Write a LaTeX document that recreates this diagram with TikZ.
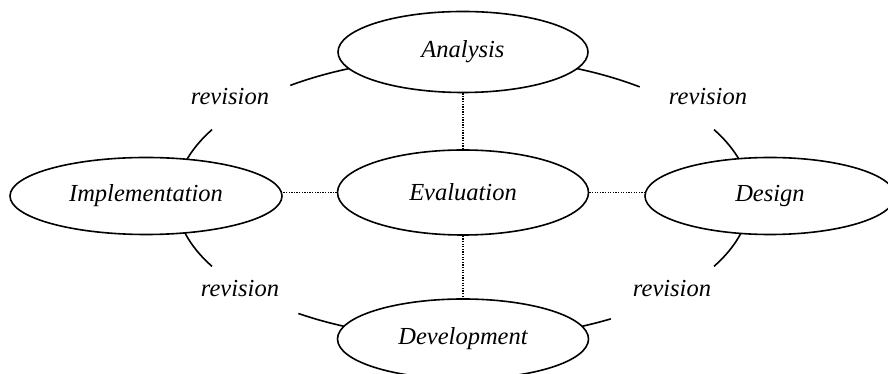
\documentclass[tikz,border=0pt]{standalone}
\usepackage{fontspec}
\setmainfont{Liberation Serif}
\usetikzlibrary{shapes.geometric}

\begin{document}
\begin{tikzpicture}[x=1pt, y=1pt,
	phase/.style={draw, ellipse, line width=1.6pt, fill=white, inner sep=0pt, font=\fontsize{24.5}{29}\selectfont\itshape},
	link/.style={line width=1.7pt, dash pattern=on 1.3pt off 1.3pt},
	loop/.style={line width=1.6pt},
	lbl/.style={font=\fontsize{24.5}{29}\selectfont\itshape}]
		\useasboundingbox (0,0) rectangle (888,374);
		\coordinate (cyc) at (463,176);
		
		% revision arcs, their inner ends go under the phases
		\foreach \a/\b in {105/127, 151/175, 185/209, 235/255, 75/52, 29/5, -5/-29, -59/-75}
		\draw[loop] (cyc) ++(\a:287pt and 141pt) arc[start angle=\a, end angle=\b, x radius=287pt, y radius=141pt];
		
		\node[phase, minimum width=250pt, minimum height=81pt] (analysis) at (463,322) {Analysis};
		\node[phase, minimum width=251pt, minimum height=85pt] (evaluation) at (463,181.5) {Evaluation};
		\node[phase, minimum width=272pt, minimum height=77pt] (implementation) at (146,178) {Implementation};
		\node[phase, minimum width=250pt, minimum height=77pt] (design) at (770,178) {Design};
		\node[phase, minimum width=251pt, minimum height=80pt] (development) at (463,35) {Development};
		
		\node[lbl] (revNW) at (230,277) {revision};
		\node[lbl] (revNE) at (708,277) {revision};
		\node[lbl] (revSW) at (240,85) {revision};
		\node[lbl] (revSE) at (672,85) {revision};
		
		\draw[link] (analysis) -- (evaluation);
		\draw[link] (evaluation) -- (development);
		\draw[link] (evaluation.west) -- (evaluation.west -| implementation.east);
		\draw[link] (evaluation.east) -- (evaluation.east -| design.west);
\end{tikzpicture}
\end{document}
